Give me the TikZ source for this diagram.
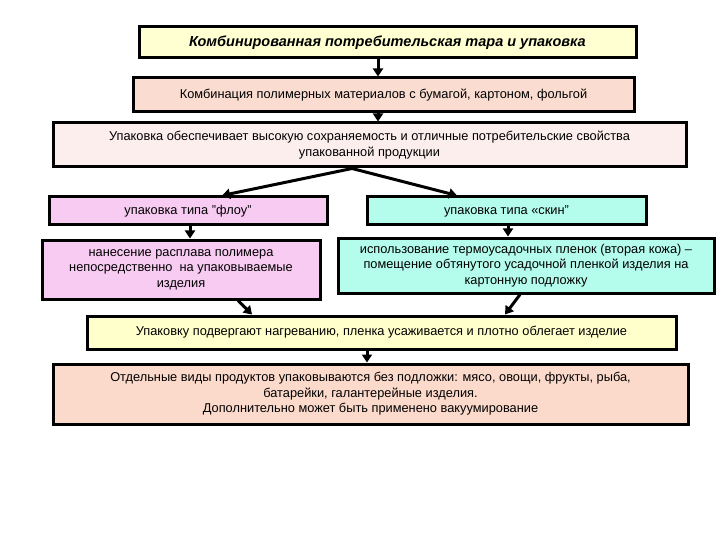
\documentclass[tikz,border=0pt]{standalone}
\usepackage{fontspec}
\setmainfont{Liberation Sans}
\usetikzlibrary{arrows.meta}
\definecolor{cTitle}{HTML}{FFFFD2}
\definecolor{cPeach}{HTML}{FADCD0}
\definecolor{cLPink}{HTML}{FDEEEE}
\definecolor{cPink}{HTML}{F8CCF2}
\definecolor{cAqua}{HTML}{B4FCEC}
\definecolor{cYel}{HTML}{FFFFCC}
\definecolor{cBot}{HTML}{FCDACB}
\begin{document}
\begin{tikzpicture}[x=1pt,y=-1pt,
  bx/.style={draw=black,line width=3pt,inner sep=0pt,align=center,font=\fontsize{12.8}{15.5}\selectfont},
  ar/.style={line width=3pt,-{Triangle[length=8pt,width=10pt]}}]
\useasboundingbox (0,0) rectangle (720,540);
\newcommand\bxat[6]{\node[bx,fill=#2,minimum width=#5-#3,minimum height=#6-#4] (#1) at ({(#3+#5)/2},{(#4+#6)/2})}
\bxat{t}{cTitle}{139}{27}{636}{58} {\fontsize{14.5}{16}\selectfont\bfseries\itshape Комбинированная потребительская тара и упаковка};
\bxat{b2}{cPeach}{133}{78}{634}{112} {Комбинация полимерных материалов с бумагой, картоном, фольгой};
\bxat{b3}{cLPink}{53}{123}{686}{167} {Упаковка обеспечивает высокую сохраняемость и отличные потребительские свойства\\упакованной продукции};
\bxat{f1}{cPink}{49}{197}{327}{225} {упаковка типа "флоу"};
\bxat{s1}{cAqua}{367}{197}{646}{225} {упаковка типа «скин"};
\bxat{f2}{cPink}{42}{240}{320}{299} {нанесение расплава полимера\\непосредственно \ на упаковываемые\\изделия};
\bxat{s2}{cAqua}{338}{238}{714}{293} {использование термоусадочных пленок (вторая кожа) –\\помещение обтянутого усадочной пленкой изделия на\\картонную подложку};
\bxat{y}{cYel}{87}{316}{676}{349} {Упаковку подвергают нагреванию, пленка усаживается и плотно облегает изделие};
\bxat{bt}{cBot}{53}{364}{688}{424} {Отдельные виды продуктов упаковываются без подложки: мясо, овощи, фрукты, рыба,\\батарейки, галантерейные изделия.\\Дополнительно может быть применено вакуумирование};
\draw[ar] (t.south -| 378,0) -- (b2.north -| 378,0);
\draw[ar] (b2.south -| 378,0) -- (b3.north -| 378,0);
\draw[ar] (b3.south -| 352,0) -- (f1.north -| 222,0);
\draw[ar] (b3.south -| 352,0) -- (s1.north -| 457,0);
\draw[ar] (f1.south -| 190,0) -- (f2.north -| 190,0);
\draw[ar] (s1.south -| 508,0) -- (s2.north -| 508,0);
\draw[ar] (f2.south -| 238,0) -- (y.north -| 252,0);
\draw[ar] (s2.south -| 520,0) -- (y.north -| 505,0);
\draw[ar] (y.south -| 367,0) -- (bt.north -| 367,0);
\end{tikzpicture}
\end{document}
